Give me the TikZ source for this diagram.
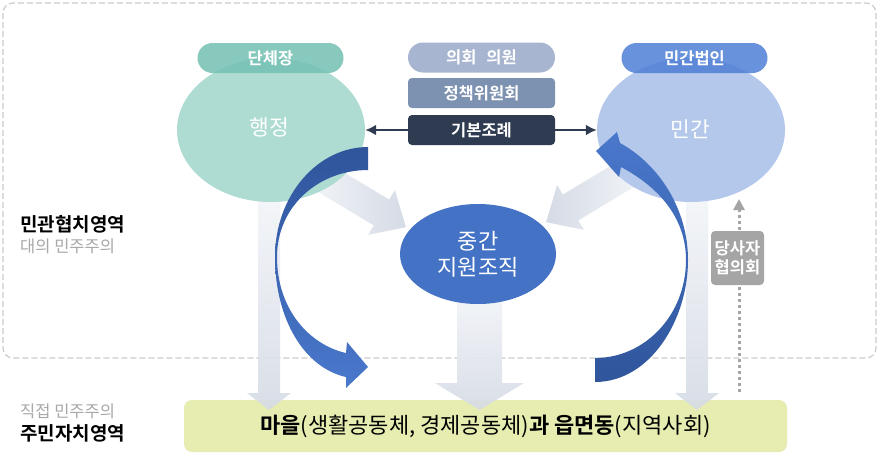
\documentclass[tikz,border=0pt]{standalone}
\usepackage{fontspec}
\setmainfont{Noto Sans CJK KR}[BoldFont={Noto Sans CJK KR Bold}]
\usetikzlibrary{arrows.meta,shapes.geometric}
\definecolor{tealL}{HTML}{AEDCD3}
\definecolor{tealP}{HTML}{74C0B3}
\definecolor{blueL}{HTML}{B4C8EC}
\definecolor{blueP}{HTML}{4F7FD6}
\definecolor{boxA}{HTML}{A8B5D0}
\definecolor{boxB}{HTML}{7D91B1}
\definecolor{boxC}{HTML}{2F3B50}
\definecolor{midE}{HTML}{4472C4}
\definecolor{grayBox}{HTML}{A5A5A5}
\definecolor{yel}{HTML}{E7EDB0}
\definecolor{txtgray}{HTML}{A8A8A8}
\definecolor{dashcol}{HTML}{CCCCCC}
\definecolor{cDark}{HTML}{2F559B}
\definecolor{cLight}{HTML}{4A78CC}
\definecolor{arrL}{HTML}{F3F5F9}
\definecolor{arrD}{HTML}{D5DBE5}
\tikzset{
  bigell/.style={ellipse, inner sep=0pt, minimum width=188pt, minimum height=144pt},
  elltext/.style={text=white, font=\fontsize{21.5}{26}\selectfont},
  pill/.style={rectangle, rounded corners=15pt, inner sep=0pt, minimum width=146pt, minimum height=30pt, text=white, font=\bfseries\fontsize{16.5}{19}\selectfont},
  cbox/.style={rectangle, rounded corners=4pt, inner sep=0pt, minimum width=147pt, minimum height=30pt, text=white, font=\bfseries\fontsize{16.5}{19}\selectfont},
  blockarr/.style={top color=arrL, bottom color=arrD},
  lbold/.style={anchor=west, inner sep=0pt, text=black, font=\bfseries\fontsize{19}{22}\selectfont},
  lgray/.style={anchor=west, inner sep=0pt, text=txtgray, font=\fontsize{16.5}{19}\selectfont},
}
\begin{document}
\begin{tikzpicture}[x=1pt,y=-1pt]
\useasboundingbox (0,0) rectangle (880,472);
\fill[white] (0,0) rectangle (880,472);
% dashed region
\draw[dashcol, line width=1.2pt, dash pattern=on 6pt off 3pt, rounded corners=10pt] (3,3) rectangle (876,358);

% yellow base box
\node[rectangle, rounded corners=8pt, fill=yel, minimum width=603pt, minimum height=52pt, inner sep=0pt,
  font=\fontsize{22}{26}\selectfont, text=black] (maeul) at (485.5,426)
  {\textbf{마을}(생활공동체, 경제공동체)\textbf{과 읍면동}(지역사회)};

% light block arrows
\shade[blockarr, opacity=.9] (258,195) -- (280,195) -- (280,393) -- (291,393) -- (269,410) -- (247,393) -- (258,393) -- cycle;
\shade[blockarr, opacity=.9] (686,195) -- (708,195) -- (708,393) -- (719,393) -- (697,410) -- (675,393) -- (686,393) -- cycle;
\shade[blockarr, opacity=.9] (457,290) -- (502,290) -- (502,383) -- (524,383) -- (479.5,410) -- (435,383) -- (457,383) -- cycle;
\shade[left color=arrL, right color=arrD] (320.6,158.4) -- (389.2,199.6) -- (394.9,190.2) -- (405.9,227.2) -- (368.1,234.8) -- (373.8,225.4) -- (305.2,184.2) -- cycle;
\shade[left color=arrD, right color=arrL] (631.4,153.4) -- (562.8,194.6) -- (557.1,185.2) -- (546.1,222.2) -- (583.9,229.8) -- (578.2,220.4) -- (646.8,179.2) -- cycle;

% big ellipses
\node[bigell, fill=tealL] (hj) at (271,130) {};
\node[bigell, fill=blueL] (mg) at (691,130) {};
\node[elltext] (hjt) at (269,127) {행정};
\node[elltext] (mgt) at (690,129) {민간};
\node[pill, fill=tealP, fill opacity=.85, text opacity=1] (dc) at (270.5,58) {단체장};
\node[pill, fill=blueP, fill opacity=.85, text opacity=1] (mb) at (694.5,58) {민간법인};

% middle ellipse
\node[ellipse, fill=midE, inner sep=0pt, minimum width=156pt, minimum height=100pt, text=white,
  align=center, font=\fontsize{22}{26}\selectfont] (jg) at (478,254) {중간\\지원조직};

% double arrow
\draw[boxC, line width=2.5pt, {Latex[length=11pt,width=11pt]}-{Latex[length=11pt,width=11pt]}] (hj.east) -- (mg.west);

% center boxes
\node[pill, minimum width=147pt, fill=boxA] (ui) at (481.5,57.5) {의회\hspace{0.6em}의원};
\node[cbox, fill=boxB] (jc) at (481.5,93) {정책위원회};
\node[cbox, fill=boxC] (gb) at (481.5,130) {기본조례};

% curved arrows
\shade[top color=cDark, bottom color=cLight] (368,147) .. controls (318,147) and (275,195) .. (275,257)
  .. controls (275,320) and (305,368) .. (346,377) -- (346,388) -- (368,367) -- (347,342) -- (346,353)
  .. controls (310,345) and (277,310) .. (277,257) .. controls (277,205) and (320,170) .. (368,170) -- cycle;
\shade[top color=cLight, bottom color=cDark] (595,382) .. controls (650,382) and (688,320) .. (688,260)
  .. controls (688,210) and (660,165) .. (620,143) -- (617,132) -- (596,151) -- (619,177) -- (621,167)
  .. controls (655,185) and (686,215) .. (686,260) .. controls (686,315) and (645,358) .. (595,358) -- cycle;

% dotted arrow and 당사자 협의회
\coordinate (dbot) at (739,392);
\coordinate (dtop) at (739,199);
\draw[grayBox, line width=3pt, dash pattern=on 3pt off 3pt, -{Triangle[length=11pt,width=11pt]}] (dbot) -- (dtop);
\node[rectangle, rounded corners=4pt, fill=grayBox, minimum width=53pt, minimum height=54pt, inner sep=0pt,
  text=white, align=center, font=\bfseries\fontsize{16.5}{19}\selectfont] (ds) at (737.5,258) {당사자\\협의회};

% side labels
\node[lbold] (l1) at (20,224) {민관협치영역};
\node[lgray] (l2) at (20,246) {대의 민주주의};
\node[lgray] (l3) at (20,411) {직접 민주주의};
\node[lbold] (l4) at (20,433) {주민자치영역};
\end{tikzpicture}
\end{document}
